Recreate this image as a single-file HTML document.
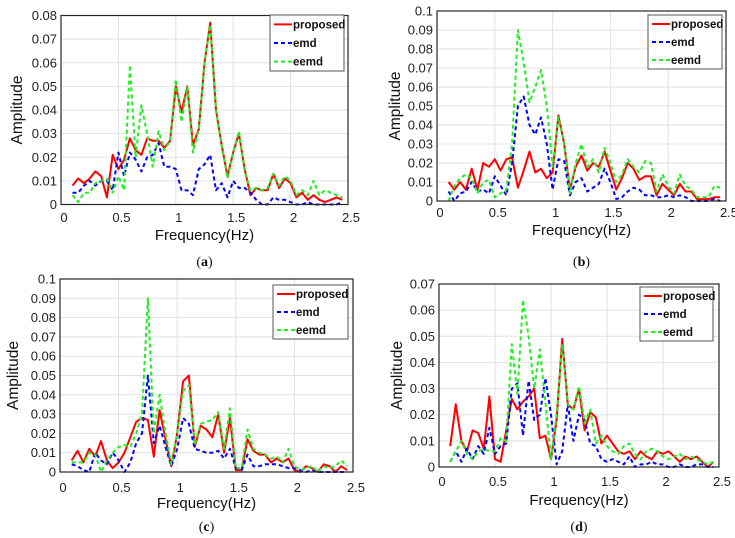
<!DOCTYPE html>
<html><head><meta charset="utf-8">
<style>
html,body{margin:0;padding:0;background:#fff;}
body{width:735px;height:538px;overflow:hidden;}
svg{display:block;font-family:"Liberation Sans",Arial,sans-serif;}
</style></head>
<body>
<svg id="fig" width="735" height="538" viewBox="0 0 735 538" xmlns="http://www.w3.org/2000/svg"></svg>
<script>
const freqs = [0.1,0.15,0.2,0.25,0.3,0.35,0.4,0.45,0.5,0.55,0.6,0.65,0.7,0.75,0.8,0.85,0.9,0.95,1.0,1.05,1.1,1.15,1.2,1.25,1.3,1.35,1.4,1.45,1.5,1.55,1.6,1.65,1.7,1.75,1.8,1.85,1.9,1.95,2.0,2.05,2.1,2.15,2.2,2.25,2.3,2.35,2.4,2.45];
const xTicks = [0,0.5,1,1.5,2,2.5];
const xTickLabels = ["0","0.5","1","1.5","2","2.5"];
const yTicksA = [0,0.01,0.02,0.03,0.04,0.05,0.06,0.07,0.08];
const yTickLabelsA = ["0","0.01","0.02","0.03","0.04","0.05","0.06","0.07","0.08"];
const yTicksB = [0,0.01,0.02,0.03,0.04,0.05,0.06,0.07,0.08,0.09,0.1];
const yTickLabelsB = ["0","0.01","0.02","0.03","0.04","0.05","0.06","0.07","0.08","0.09","0.1"];
const yTicksD = [0,0.01,0.02,0.03,0.04,0.05,0.06,0.07];
const yTickLabelsD = ["0","0.01","0.02","0.03","0.04","0.05","0.06","0.07"];
const seriesNames = ["proposed","emd","eemd"];

const proposedA = [0.008,0.011,0.009,0.011,0.014,0.012,0.003,0.021,0.015,0.019,0.028,0.023,0.021,0.028,0.027,0.027,0.024,0.027,0.05,0.039,0.05,0.025,0.032,0.06,0.077,0.04,0.025,0.012,0.022,0.03,0.015,0.004,0.007,0.006,0.006,0.013,0.007,0.011,0.009,0.003,0.005,0.002,0.004,0.002,0.001,0.002,0.003,0.002];
const emdA = [0.005,0.005,0.008,0.01,0.008,0.01,0.01,0.006,0.022,0.012,0.022,0.019,0.014,0.02,0.021,0.026,0.016,0.016,0.015,0.006,0.006,0.004,0.015,0.017,0.021,0.006,0.009,0.003,0.01,0.007,0.007,0.005,0.002,0.0,0.0,0.003,0.002,0.002,0.001,0.0,0.0,0.001,0,0,0,0,0,0.001];
const eemdA = [0.004,0.001,0.005,0.005,0.009,0.01,0.011,0.005,0.012,0.006,0.059,0.02,0.042,0.03,0.016,0.031,0.023,0.027,0.053,0.035,0.05,0.022,0.032,0.06,0.076,0.04,0.025,0.011,0.022,0.031,0.014,0.006,0.007,0.006,0.007,0.013,0.008,0.012,0.01,0.004,0.006,0.004,0.01,0.004,0.006,0.005,0.004,0.003];

const proposedB = [0.01,0.006,0.01,0.006,0.017,0.006,0.02,0.018,0.022,0.016,0.022,0.023,0.007,0.016,0.026,0.015,0.017,0.012,0.015,0.045,0.03,0.006,0.018,0.024,0.016,0.02,0.018,0.026,0.016,0.006,0.012,0.02,0.017,0.011,0.013,0.013,0.003,0.009,0.006,0.003,0.009,0.005,0.005,0.001,0.001,0.001,0.002,0.002];
const emdB = [0.005,0.0,0.004,0.005,0.01,0.005,0.006,0.004,0.013,0.008,0.003,0.02,0.05,0.055,0.04,0.035,0.044,0.03,0.006,0.022,0.021,0.003,0.01,0.012,0.005,0.007,0.009,0.017,0.01,0.001,0.002,0.005,0.007,0.006,0.003,0.003,0.002,0.002,0.003,0.002,0.003,0.002,0.0,0,0,0,0.001,0];
const eemdB = [0.0,0.008,0.012,0.014,0.012,0.004,0.01,0.011,0.002,0.004,0.006,0.03,0.09,0.073,0.052,0.06,0.069,0.05,0.018,0.044,0.03,0.004,0.02,0.03,0.018,0.022,0.015,0.028,0.02,0.01,0.014,0.022,0.018,0.015,0.021,0.02,0.005,0.014,0.008,0.004,0.014,0.008,0.006,0.002,0.002,0.002,0.008,0.007];

const proposedC = [0.006,0.011,0.005,0.012,0.008,0.016,0.006,0.002,0.005,0.01,0.018,0.026,0.028,0.027,0.008,0.032,0.017,0.003,0.02,0.047,0.05,0.013,0.024,0.022,0.018,0.03,0.01,0.028,0.001,0.001,0.017,0.011,0.009,0.009,0.005,0.007,0.005,0.007,0.001,0.0,0.003,0.002,0.0,0.004,0.003,0.0,0.003,0.001];
const emdC = [0.004,0.003,0.001,0.0,0.01,0.006,0.004,0.01,0.006,0.0,0.005,0.015,0.02,0.05,0.015,0.024,0.013,0.003,0.012,0.028,0.025,0.012,0.011,0.01,0.01,0.011,0.007,0.012,0.002,0.001,0.009,0.003,0.003,0.004,0.004,0.004,0.003,0.002,0.002,0.001,0.0,0.001,0,0,0,0,0,0];
const eemdC = [0.005,0.005,0.005,0.01,0.009,0.0,0.006,0.01,0.013,0.014,0.013,0.02,0.03,0.09,0.02,0.04,0.02,0.004,0.02,0.042,0.045,0.014,0.025,0.026,0.027,0.031,0.012,0.033,0.002,0.002,0.022,0.012,0.01,0.009,0.007,0.008,0.005,0.012,0.003,0.001,0.002,0.003,0.0,0.003,0.002,0.003,0.006,0.003];

const proposedD = [0.008,0.024,0.01,0.006,0.014,0.013,0.007,0.027,0.003,0.002,0.014,0.026,0.022,0.025,0.027,0.03,0.011,0.012,0.003,0.018,0.049,0.024,0.022,0.03,0.014,0.021,0.019,0.009,0.012,0.009,0.006,0.005,0.006,0.003,0.006,0.004,0.003,0.006,0.005,0.006,0.004,0.002,0.004,0.003,0.004,0.002,0.0,0.002];
const emdD = [0.002,0.006,0.002,0.007,0.003,0.008,0.005,0.015,0.005,0.008,0.009,0.03,0.032,0.012,0.033,0.018,0.02,0.034,0.02,0.001,0.006,0.024,0.01,0.02,0.018,0.009,0.008,0.003,0.002,0.003,0.002,0.001,0.004,0.0,0.001,0.001,0.002,0.001,0.001,0.0,0.0,0.001,0.0,0.0,0.001,0.001,0.0,0.0];
const eemdD = [0.002,0.006,0.01,0.005,0.003,0.006,0.007,0.006,0.006,0.011,0.01,0.047,0.028,0.064,0.05,0.03,0.045,0.025,0.003,0.02,0.047,0.024,0.022,0.031,0.017,0.022,0.009,0.012,0.008,0.006,0.005,0.008,0.009,0.005,0.003,0.006,0.007,0.006,0.004,0.003,0.004,0.005,0.003,0.004,0.003,0.002,0.001,0.002];

const NS = "http://www.w3.org/2000/svg";
const svg = document.getElementById('fig');
function mk(tag, attrs, parent){const e=document.createElementNS(NS,tag);for(const k in attrs)e.setAttribute(k,attrs[k]);(parent||svg).appendChild(e);return e;}

const styles = [
  {stroke:"#ff0000",dash:"",w:2},
  {stroke:"#0000ff",dash:"4,3",w:2},
  {stroke:"#22ee22",dash:"4,3",w:2}
];

function panel(id, box, ymax, yTicks, yLabels, data, leg, ylabX, xlabY, tickY, capY, caption){
  const g = mk('g',{});
  
  
  const xs = v => box.l + (v/2.5)*(box.r-box.l);
  const ys = v => box.b - (v/ymax)*(box.b-box.t);
  xTicks.forEach((t,i)=>{
    const ln = mk('line',{x1:xs(t),x2:xs(t),y1:box.t,y2:box.b,stroke:"#e2e2e2","stroke-width":1},g);
    
    
    const tx = mk('text',{x:xs(t)+3,y:tickY,"font-size":13,fill:"#222","text-anchor":"middle"},g);
    tx.textContent = xTickLabels[i];
    
    
  });
  yTicks.forEach((t,i)=>{
    const ln = mk('line',{x1:box.l,x2:box.r,y1:ys(t),y2:ys(t),stroke:"#e2e2e2","stroke-width":1},g);
    
    
    const tx = mk('text',{x:box.l-4,y:ys(t)+4.5,"font-size":13,fill:"#222","text-anchor":"end"},g);
    tx.textContent = yLabels[i];
    
    
  });
  data.forEach((vals,si)=>{
    const pts = vals.map((v,i)=>xs(freqs[i]).toFixed(1)+","+ys(v).toFixed(1)).join(" ");
    const st = styles[si];
    const pl = mk('polyline',{points:pts,fill:"none",stroke:st.stroke,"stroke-width":st.w,"stroke-dasharray":st.dash,"stroke-linejoin":"round"},g);
    
    
  });
  const fr = mk('rect',{x:box.l,y:box.t,width:box.r-box.l,height:box.b-box.t,fill:"none",stroke:"#262626","stroke-width":1.2},g);
  
  
  const lg = mk('g',{},g);
  
  
  mk('rect',{x:leg.x,y:leg.y,width:leg.w,height:leg.h,fill:"#fff",stroke:"#555","stroke-width":1},lg);
  seriesNames.forEach((n,si)=>{
    const yy = leg.y + leg.h*(si+0.5)/3;
    const st = styles[si];
    const ln = mk('line',{x1:leg.x+4,x2:leg.x+22,y1:yy,y2:yy,stroke:st.stroke,"stroke-width":2,"stroke-dasharray":st.dash},lg);
    
    
    const tx = mk('text',{x:leg.x+23,y:yy+4,"font-size":11.5,"font-weight":"bold",fill:"#111"},lg);
    tx.textContent = n;
    
    
  });
  const cy = (box.t+box.b)/2;
  const yl = mk('text',{x:ylabX,y:cy,"font-size":15.5,fill:"#111","text-anchor":"middle",transform:`rotate(-90 ${ylabX} ${cy})`},g);
  yl.textContent = "Amplitude";
  
  
  const cx = (box.l+box.r)/2;
  const xl = mk('text',{x:cx,y:xlabY,"font-size":15,fill:"#111","text-anchor":"middle"},g);
  xl.textContent = "Frequency(Hz)";
  
  
  const cp = mk('text',{x:cx,y:capY,"font-size":14,fill:"#111","text-anchor":"middle","font-family":"Liberation Serif, serif"},g);
  cp.innerHTML = '(<tspan font-weight="bold">'+caption+'</tspan>)';
  
  
}

panel('a',{l:61,t:15.5,r:348,b:204.5},0.08,yTicksA,yTickLabelsA,[proposedA,emdA,eemdA],{x:270,y:15,w:74,h:56},22,240,222,266,'a');
panel('b',{l:437,t:11,r:726,b:201},0.1,yTicksB,yTickLabelsB,[proposedB,emdB,eemdB],{x:648,y:15,w:74,h:54},400,235,217,266,'b');
panel('c',{l:60,t:279,r:353,b:472},0.1,yTicksB,yTickLabelsB,[proposedC,emdC,eemdC],{x:273,y:285,w:75,h:54},18,508,492,531,'c');
panel('d',{l:439,t:284,r:719,b:467},0.07,yTicksD,yTickLabelsD,[proposedD,emdD,eemdD],{x:640,y:287,w:73,h:54},402,505,486,531,'d');
</script>
</body></html>
